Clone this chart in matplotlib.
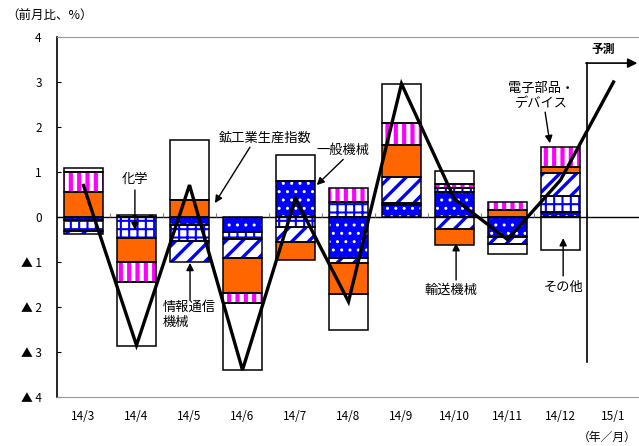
import numpy as np
import matplotlib
matplotlib.use("Agg")
import matplotlib.pyplot as plt

plt.rcParams['font.family'] = ['Noto Sans CJK JP', 'DejaVu Sans']

months = ["14/3", "14/4", "14/5", "14/6", "14/7", "14/8",
          "14/9", "14/10", "14/11", "14/12", "15/1"]

# contributions by industry (14/3 .. 14/12), stacked in this order
ippan   = [-0.07, 0.00, -0.18, -0.34, 0.81, -0.92, 0.27, 0.55, -0.45, 0.12]   # 一般機械
kagaku  = [-0.24, -0.47, -0.35, -0.14, -0.23, 0.34, 0.05, 0.09, 0.00, 0.35]   # 化学
joho    = [-0.07, 0.04, -0.46, -0.42, -0.32, -0.11, 0.56, -0.27, -0.14, 0.50] # 情報通信機械
yuso    = [0.55, -0.53, 0.38, -0.78, -0.41, -0.67, 0.72, -0.35, 0.16, 0.15]   # 輸送機械
denshi  = [0.45, -0.44, 0.00, -0.22, 0.00, 0.30, 0.50, 0.09, 0.17, 0.43]      # 電子部品・デバイス
sonota  = [0.08, -1.43, 1.33, -1.50, 0.57, -0.81, 0.86, 0.30, -0.24, -0.73]   # その他

# 鉱工業生産指数 (前月比), 15/1 is forecast
index_vals = [0.70, -2.85, 0.71, -3.40, 0.41, -1.88, 2.96, 0.40, -0.50, 0.82, 3.00]

BLUE = "#0000FF"
ORANGE = "#FF6600"
MAGENTA = "#FF00FF"

# (values, face, hatch, hatch colour, hatch lw)
series = [
    (ippan,  BLUE,    "..", "white", 1.0),
    (kagaku, "white", "++", BLUE,    1.5),
    (joho,   "white", "//", BLUE,    2.4),
    (yuso,   ORANGE,  None, ORANGE,  1.0),
    (denshi, "white", "||", MAGENTA, 3.0),
    (sonota, "white", None, "white", 1.0),
]

fig = plt.figure(figsize=(6.39, 4.46), dpi=100)
ax = fig.add_axes([57/639, 1 - 397/446, 583/639, 360/446])

x = np.arange(len(ippan))
width = 0.75
pos_base = np.zeros(len(x))
neg_base = np.zeros(len(x))
for vals, face, hatch, hcol, hlw in series:
    v = np.array(vals)
    bottom = np.where(v >= 0, pos_base, neg_base)
    with plt.rc_context({'hatch.linewidth': hlw}):
        bars = ax.bar(x, v, width, bottom=bottom, color=face, edgecolor=hcol,
                      hatch=hatch, linewidth=0, zorder=2)
        for b in bars:
            if hasattr(b, "set_hatch_linewidth"):
                b.set_hatch_linewidth(hlw)
    ax.bar(x, v, width, bottom=bottom, fill=False, edgecolor="black",
           linewidth=1.1, zorder=3)
    pos_base = pos_base + np.where(v >= 0, v, 0)
    neg_base = neg_base + np.where(v < 0, v, 0)

ax.plot(np.arange(len(months)), index_vals, color="black", lw=2.4, zorder=5,
        solid_joinstyle="miter")

ax.axhline(0, color="black", lw=1, zorder=4)
ax.vlines(np.arange(0.5, 10.5, 1), 0, 0.08, color="gray", lw=0.8, zorder=4)

# forecast marker
ax.plot([9.5, 9.5], [-3.22, 3.42], color="black", lw=1.2, zorder=5)
ax.annotate("", xy=(10.45, 3.42), xytext=(9.48, 3.42),
            arrowprops=dict(arrowstyle="-|>", color="black", lw=1.2,
                            mutation_scale=14, shrinkA=0, shrinkB=0))
ax.text(9.8, 3.72, "予測", ha="center", va="center", fontsize=8.5,
        fontweight="bold")

ax.set_xlim(-0.5, 10.5)
ax.set_ylim(-4, 4)
ax.set_xticks(np.arange(len(months)))
ax.set_xticklabels(months, fontsize=8.5)
ax.set_yticks(np.arange(-4, 5))
ax.set_yticklabels(["▲ 4", "▲ 3", "▲ 2", "▲ 1", "0", "1", "2", "3", "4"],
                   fontsize=8.5)
ax.tick_params(axis="x", length=0, pad=9)
ax.tick_params(axis="y", direction="in", length=3, pad=11)
ax.spines["right"].set_visible(False)
ax.spines["top"].set_color("#999999")
ax.spines["bottom"].set_color("#999999")
ax.spines["left"].set_linewidth(1.2)

arrow = dict(arrowstyle="-|>", color="black", lw=1, mutation_scale=11,
             shrinkA=0, shrinkB=0)
fs = 9.5
ax.text(0.97, 0.84, "化学", ha="center", va="center", fontsize=fs)
ax.annotate("", xy=(0.97, -0.29), xytext=(0.97, 0.6), arrowprops=arrow)

ax.text(3.42, 1.76, "鉱工業生産指数", ha="center", va="center", fontsize=fs)
ax.annotate("", xy=(2.48, 0.31), xytext=(3.14, 1.55), arrowprops=arrow)

ax.text(4.9, 1.47, "一般機械", ha="center", va="center", fontsize=fs)
ax.annotate("", xy=(4.4, 0.71), xytext=(4.9, 1.28), arrowprops=arrow)

ax.text(1.5, -2.18, "情報通信\n機械", ha="left", va="center", fontsize=fs,
        linespacing=1.2)
ax.annotate("", xy=(2.01, -1.02), xytext=(2.01, -1.84), arrowprops=arrow)

ax.text(6.93, -1.62, "輸送機械", ha="center", va="center", fontsize=fs)
ax.annotate("", xy=(7.03, -0.58), xytext=(7.03, -1.4), arrowprops=arrow)

ax.text(9.05, -1.56, "その他", ha="center", va="center", fontsize=fs)
ax.annotate("", xy=(9.05, -0.47), xytext=(9.05, -1.31), arrowprops=arrow)

ax.text(8.63, 2.69, "電子部品・\nデバイス", ha="center", va="center",
        fontsize=fs, linespacing=1.2)
ax.annotate("", xy=(8.8, 1.64), xytext=(8.71, 2.33), arrowprops=arrow)

fig.text(6/639, 1 - 16/446, "（前月比、%）", ha="left", va="center", fontsize=9)
fig.text(636/639, 1 - 437/446, "（年／月）", ha="right", va="center", fontsize=8.5)

fig.savefig("out.png", dpi=100)
